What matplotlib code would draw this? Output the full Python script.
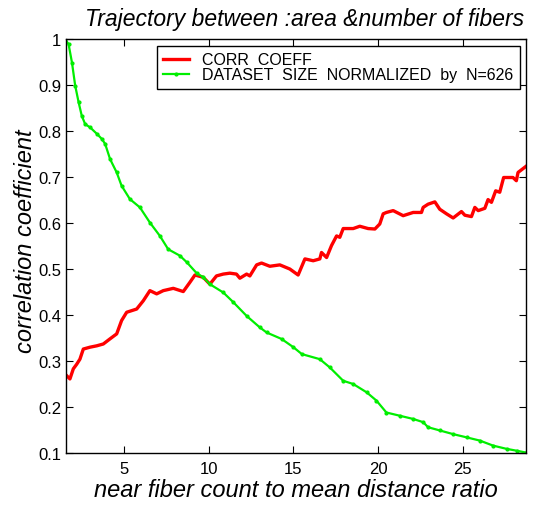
import matplotlib
matplotlib.use('Agg')
import matplotlib.pyplot as plt

plt.rcParams['font.family'] = ['Liberation Sans', 'DejaVu Sans']

# correlation coefficient vs. ratio threshold
corr_x = [1.62, 1.81, 2.01, 2.21, 2.40, 2.60, 2.99, 3.39, 3.78, 4.17, 4.57, 4.86,
          5.16, 5.75, 6.14, 6.53, 6.93, 7.32, 7.91, 8.50, 8.89, 9.19, 9.68, 10.07,
          10.46, 10.86, 11.25, 11.64, 11.84, 12.24, 12.43, 12.83, 13.12, 13.61, 14.20,
          14.79, 15.28, 15.68, 16.17, 16.56, 16.66, 16.96, 17.25, 17.55, 17.74, 17.94,
          18.53, 18.92, 19.41, 19.81, 20.10, 20.30, 20.49, 20.89, 21.48, 22.07, 22.56,
          22.66, 22.95, 23.35, 23.64, 24.04, 24.43, 24.92, 25.12, 25.51, 25.71, 25.91,
          26.30, 26.49, 26.69, 26.94, 27.18, 27.41, 27.96, 28.16, 28.26, 28.72]
corr_y = [0.268, 0.261, 0.283, 0.293, 0.304, 0.326, 0.330, 0.333, 0.337, 0.348, 0.359, 0.388,
          0.406, 0.413, 0.431, 0.453, 0.446, 0.453, 0.458, 0.451, 0.471, 0.487, 0.482, 0.467,
          0.485, 0.489, 0.491, 0.489, 0.480, 0.489, 0.485, 0.509, 0.513, 0.506, 0.509,
          0.500, 0.487, 0.522, 0.518, 0.522, 0.536, 0.525, 0.551, 0.572, 0.569, 0.588,
          0.588, 0.593, 0.588, 0.587, 0.598, 0.620, 0.623, 0.627, 0.616, 0.623, 0.623,
          0.634, 0.641, 0.646, 0.630, 0.620, 0.611, 0.625, 0.617, 0.614, 0.634, 0.627,
          0.632, 0.651, 0.645, 0.670, 0.667, 0.699, 0.699, 0.692, 0.710, 0.723]

# fraction of the 626 samples left
size_x = [1.52, 1.73, 1.93, 2.12, 2.32, 2.51, 2.71, 3.00, 3.40, 3.69, 3.89, 4.18,
          4.57, 4.86, 5.35, 5.94, 6.53, 7.12, 7.61, 8.30, 8.70, 9.29, 9.68, 10.07,
          10.86, 11.45, 12.24, 13.02, 13.42, 14.30, 15.00, 15.50, 16.56, 17.15, 17.94,
          18.53, 19.32, 19.90, 20.49, 21.28, 22.07, 22.66, 22.95, 23.64, 24.43, 25.22,
          26.00, 26.79, 27.58, 28.17, 28.72]
size_y = [1.000, 0.989, 0.949, 0.899, 0.863, 0.833, 0.815, 0.808, 0.794, 0.783, 0.772, 0.739,
          0.710, 0.681, 0.652, 0.634, 0.601, 0.572, 0.543, 0.529, 0.515, 0.491, 0.482, 0.467,
          0.449, 0.428, 0.398, 0.373, 0.362, 0.348, 0.330, 0.315, 0.304, 0.286, 0.257,
          0.250, 0.232, 0.214, 0.188, 0.181, 0.174, 0.167, 0.156, 0.149, 0.141, 0.134,
          0.127, 0.116, 0.109, 0.105, 0.101]

x_ticks = [5, 10, 15, 20, 25]
y_ticks = [0.1, 0.2, 0.3, 0.4, 0.5, 0.6, 0.7, 0.8, 0.9, 1.0]
y_tick_labels = ['0.1', '0.2', '0.3', '0.4', '0.5', '0.6', '0.7', '0.8', '0.9', '1']

fig = plt.figure(figsize=(5.34, 5.06), dpi=100)
ax = fig.add_axes([0.1227, 0.1028, 0.862, 0.818])

ax.plot(corr_x, corr_y, color='#ff0000', linewidth=2.4, label='CORR  COEFF')
ax.plot(size_x, size_y, color='#00ee00', linewidth=1.6, marker='.', markersize=4,
        label='DATASET  SIZE  NORMALIZED  by  N=626')

ax.set_xlim(1.55, 28.72)
ax.set_ylim(0.1, 1.0)
ax.set_xticks(x_ticks)
ax.set_yticks(y_ticks)
ax.set_yticklabels(y_tick_labels)
ax.tick_params(direction='in', length=5, width=0.8, top=True, right=True,
               labelsize=12)
ax.tick_params(axis='y', pad=3)
ax.tick_params(axis='x', pad=6)
for sp in ax.spines.values():
    sp.set_linewidth(1.0)

ax.set_title('Trajectory between :area &number of fibers', fontsize=16.5,
             style='italic', pad=10, x=0.52)
ax.set_xlabel('near fiber count to mean distance ratio', fontsize=17,
              style='italic', labelpad=1)
ax.set_ylabel('correlation coefficient', fontsize=17, style='italic')
ax.yaxis.set_label_coords(-0.062, 0.514)

leg = ax.legend(loc='upper right', bbox_to_anchor=(1 - 6 / 460.5, 1 - 7 / 414),
                borderaxespad=0, fancybox=False, fontsize=11.5, handlelength=1.6,
                handletextpad=0.85, borderpad=0.4, labelspacing=0.0, framealpha=1)
leg.get_frame().set_edgecolor('black')
leg.get_frame().set_linewidth(1.0)

fig.savefig('out.png', dpi=100)
